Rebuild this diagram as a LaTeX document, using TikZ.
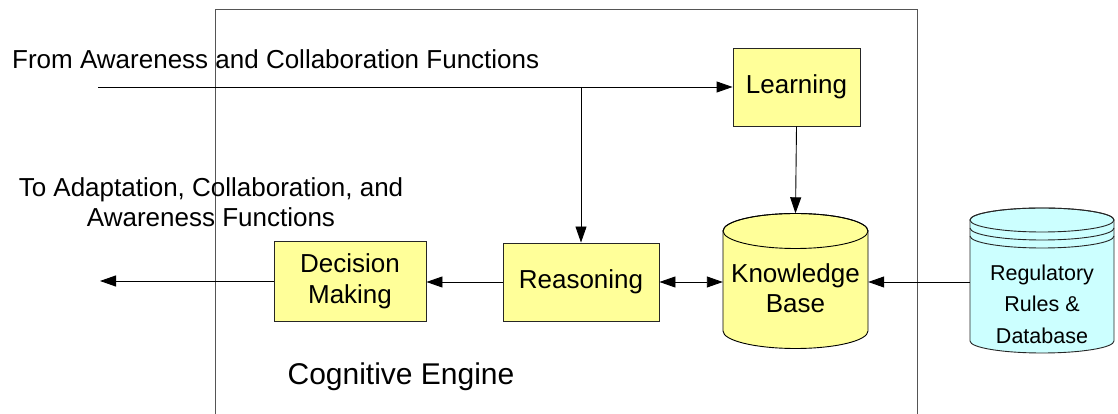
\documentclass[tikz,border=0pt]{standalone}
\usepackage{fontspec}
\setmainfont{Liberation Sans}
\usetikzlibrary{arrows.meta}
\definecolor{boxyellow}{HTML}{FFFF99}
\definecolor{dbcyan}{HTML}{CCFFFF}
\definecolor{framegray}{HTML}{555555}
\tikzset{
  procbox/.style={draw=black!85, fill=boxyellow, line width=0.9pt, align=center,
    font=\fontsize{26}{31}\selectfont, inner sep=0pt},
  hitbox/.style={draw=none, inner sep=0pt},
  flow/.style={draw=black, line width=0.9pt, -{Triangle[length=16pt,width=11pt]}},
  flowboth/.style={draw=black, line width=0.9pt, {Triangle[length=16pt,width=11pt]}-{Triangle[length=16pt,width=11pt]}},
  label/.style={font=\fontsize{26}{30}\selectfont, align=center, inner sep=0pt},
}
\begin{document}
\begin{tikzpicture}[x=1pt,y=1pt]
\useasboundingbox (0,0) rectangle (1118,414);

% engine frame (runs off the lower edge)
\draw[framegray, line width=0.9pt] (215,0) -- (215,405) -- (917,405) -- (917,0);

% knowledge base cylinder
\filldraw[fill=boxyellow, draw=black, line width=0.9pt]
  (723,183) -- (723,83) arc[start angle=180, end angle=360, x radius=72.5, y radius=17.5]
  -- (868,183) arc[start angle=0, end angle=180, x radius=72.5, y radius=17.5] -- cycle;
\draw[black, line width=0.9pt] (795.5,183) ellipse[x radius=72.5, y radius=17.5];
\node[hitbox, minimum width=145pt, minimum height=135pt] (kb) at (795.5,133) {};
\node[label] at (795.5,126) {Knowledge\\Base};

% regulatory database cylinder
\filldraw[fill=dbcyan, draw=black!85, line width=0.9pt]
  (970,194) -- (970,73) arc[start angle=180, end angle=360, x radius=72, y radius=12]
  -- (1114,194) arc[start angle=0, end angle=180, x radius=72, y radius=12] -- cycle;
\draw[black!85, line width=0.9pt] (1042,194) ellipse[x radius=72, y radius=12];
\draw[black!85, line width=0.9pt] (970,186) arc[start angle=180, end angle=360, x radius=72, y radius=12];
\draw[black!85, line width=0.9pt] (970,178) arc[start angle=180, end angle=360, x radius=72, y radius=12];
\node[hitbox, minimum width=144pt, minimum height=145pt] (reg) at (1042,133.5) {};
\node[align=center, inner sep=0pt, font=\fontsize{21.5}{31.5}\selectfont] at (1042,110) {Regulatory\\Rules \&\\Database};

% process boxes
\node[procbox, minimum width=127pt, minimum height=78pt] (learn) at (796.5,327) {Learning};
\node[procbox, minimum width=156pt, minimum height=78pt] (reason) at (581,132) {Reasoning};
\node[procbox, minimum width=152pt, minimum height=80pt] (decide) at (350,133) {Decision\\Making};

% free ends and branch point
\coordinate (in) at (98,327);
\coordinate (split) at (581,327);
\coordinate (out) at (100,133);

% connectors
\draw[flow] (in) -- (learn.west);
\draw[flow] (split) -- (reason.north);
\draw[flow] (learn.south) -- (kb.north);
\draw[flowboth] (reason.east) -- (kb.west |- reason.east);
\draw[flow] (reg.west |- reason.east) -- (kb.east |- reason.east);
\draw[flow] (reason.west) -- (decide.east |- reason.west);
\draw[flow] (decide.west) -- (out);

% labels
\node[label, anchor=base west] at (12,345) {From Awareness and Collaboration Functions};
\node[label] at (211,212) {To Adaptation, Collaboration, and\\Awareness Functions};
\node[label, font=\fontsize{30}{34}\selectfont] at (401,37) {Cognitive Engine};
\end{tikzpicture}
\end{document}
